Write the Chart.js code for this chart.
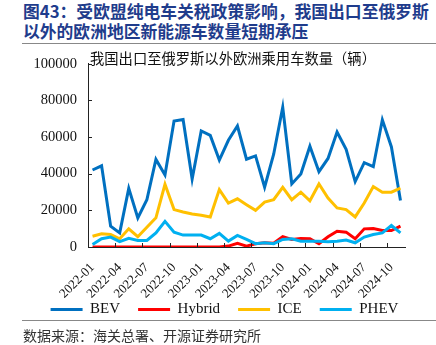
<!DOCTYPE html>
<html>
<head>
<meta charset="utf-8">
<script src="https://cdn.jsdelivr.net/npm/chart.js@4"></script>
<style>
    body { margin: 0; background: #fff; width: 436px; height: 345px; overflow: hidden; position: relative; }
    .title { position: absolute; left: 23px; top: 1px; font: bold 16.8px "Noto Sans CJK SC"; color: #1f3c8c; line-height: 20px; white-space: nowrap; }
    .rule { position: absolute; left: 22px; right: 0; height: 0; border-top: 1.5px solid #888; }
    .source { position: absolute; left: 23px; top: 325px; font: 14px "Noto Sans CJK SC"; color: #333; white-space: nowrap; }
    #wrap { position: absolute; left: 20px; top: 44px; width: 416px; height: 302px; }
</style>
</head>
<body>
<div class="title">图43：受欧盟纯电车关税政策影响，我国出口至俄罗斯<br>以外的欧洲地区新能源车数量短期承压</div>
<div class="rule" style="top:43px"></div>
<div id="wrap"><canvas id="exportChart"></canvas></div>
<div class="rule" style="top:320px"></div>
<div class="source">数据来源：海关总署、开源证券研究所</div>
<script>
const innerTitle = '我国出口至俄罗斯以外欧洲乘用车数量（辆）';

const months = [
    '2022-01', '2022-02', '2022-03', '2022-04', '2022-05', '2022-06', '2022-07', '2022-08', '2022-09', '2022-10', '2022-11', '2022-12',
    '2023-01', '2023-02', '2023-03', '2023-04', '2023-05', '2023-06', '2023-07', '2023-08', '2023-09', '2023-10', '2023-11', '2023-12',
    '2024-01', '2024-02', '2024-03', '2024-04', '2024-05', '2024-06', '2024-07', '2024-08', '2024-09', '2024-10', '2024-11',
];

const bev = [
    42000, 44300, 11400, 7700, 32000, 15900, 25800, 47800, 39300, 68700, 69600, 37100,
    63300, 60900, 47400, 58200, 66000, 47900, 49700, 32600, 50600, 76200, 34400, 39800,
    55000, 41100, 48300, 62700, 53300, 35700, 46000, 43800, 69400, 54600, 25400,
];
const hybrid = [
    0, 0, 0, 0, 0, 0, 0, 0, 0, 0, 0, 0,
    0, 0, 0, 500, 2000, 500, 1800, 2300, 2000, 5600, 4100, 4700,
    4500, 1800, 5600, 8600, 8100, 4500, 9900, 10100, 9000, 9000, 11400,
];
const ice = [
    5900, 7200, 6800, 4500, 9900, 5600, 10800, 15900, 34200, 20400, 19100, 18000,
    17300, 16400, 31300, 24000, 26300, 23100, 20000, 24500, 25800, 32600, 25800, 29900,
    25200, 34400, 26700, 21300, 20400, 16400, 24000, 33000, 29900, 29900, 32100,
];
const phev = [
    1400, 4500, 5400, 2900, 4700, 3600, 3600, 7700, 14000, 8100, 6500, 6500,
    6500, 4500, 7400, 3200, 6300, 4100, 1800, 2300, 1800, 4100, 4500, 3200,
    3200, 3100, 2900, 3200, 3800, 2300, 5400, 6800, 7700, 11700, 7700,
];

const yTicks = [0, 20000, 40000, 60000, 80000, 100000];

const serif = '"Liberation Serif", "Times New Roman", serif';

const makeLine = (label, data, color, order) => ({
    label: label,
    data: data,
    borderColor: color,
    backgroundColor: color,
    borderWidth: 3,
    pointRadius: 0,
    tension: 0,
    order: order,
});

// inward tick marks + the small heading inside the plot
const innerMarks = {
    id: 'innerMarks',
    afterLayout(chart) {
        // the original legend sits tighter under the labels and a bit right of centre
        const lg = chart.legend;
        lg.left += 12;
        lg.right += 12;
        lg.top -= 19;
        lg.bottom -= 19;
    },
    afterDraw(chart) {
        const {ctx} = chart;
        const x = chart.scales.x;
        const y = chart.scales.y;
        ctx.save();
        ctx.strokeStyle = '#222';
        ctx.lineWidth = 1;
        for (let i = 3; i < months.length; i += 3) {
            const px = Math.round(x.getPixelForValue(i - 0.5)) + 0.5;
            ctx.beginPath();
            ctx.moveTo(px, y.bottom);
            ctx.lineTo(px, y.bottom - 4);
            ctx.stroke();
        }
        yTicks.forEach(function (v) {
            const py = Math.round(y.getPixelForValue(v)) + 0.5;
            ctx.beginPath();
            ctx.moveTo(x.left, py);
            ctx.lineTo(x.left + 4, py);
            ctx.stroke();
        });
        ctx.fillStyle = '#111';
        ctx.font = '14.3px "Noto Sans CJK SC"';
        ctx.textBaseline = 'middle';
        ctx.fillText(innerTitle, x.left + 2, y.top - 5);
        ctx.restore();
    },
};

new Chart(document.getElementById('exportChart'), {
    type: 'line',
    data: {
        labels: months,
        datasets: [
            makeLine('BEV', bev, '#0070c0', 4),
            makeLine('Hybrid', hybrid, '#ff0000', 3),
            makeLine('ICE', ice, '#ffc000', 2),
            makeLine('PHEV', phev, '#00b0f0', 1),
        ],
    },
    options: {
        responsive: true,
        maintainAspectRatio: false,
        animation: false,
        layout: {
            padding: {top: 18, right: 31, left: 0, bottom: 0},
        },
        plugins: {
            legend: {
                position: 'bottom',
                labels: {
                    usePointStyle: true,
                    pointStyle: 'line',
                    pointStyleWidth: 32,
                    padding: 18,
                    color: '#111',
                    font: {family: serif, size: 15},
                    sort: (a, b) => a.datasetIndex - b.datasetIndex,
                },
            },
            tooltip: {enabled: false},
        },
        scales: {
            x: {
                offset: true,
                grid: {display: false, drawTicks: false},
                border: {display: true, color: '#222', width: 1},
                afterFit: function (axis) {
                    axis.height = 56;
                },
                ticks: {
                    autoSkip: false,
                    minRotation: 45,
                    maxRotation: 45,
                    padding: 13,
                    color: '#111',
                    font: {family: serif, size: 13},
                    callback: function (value, index) {
                        return index % 3 === 0 ? months[index] : '';
                    },
                },
            },
            y: {
                min: 0,
                max: 100000,
                grid: {display: false, drawTicks: false},
                border: {display: true, color: '#222', width: 1},
                afterBuildTicks: function (axis) {
                    axis.ticks = yTicks.map(v => ({value: v}));
                },
                afterFit: function (axis) {
                    axis.width = 68;
                },
                ticks: {
                    padding: 11,
                    color: '#111',
                    font: {family: serif, size: 14.5},
                    callback: v => String(v),
                },
            },
        },
    },
    plugins: [innerMarks],
});
</script>
</body>
</html>
